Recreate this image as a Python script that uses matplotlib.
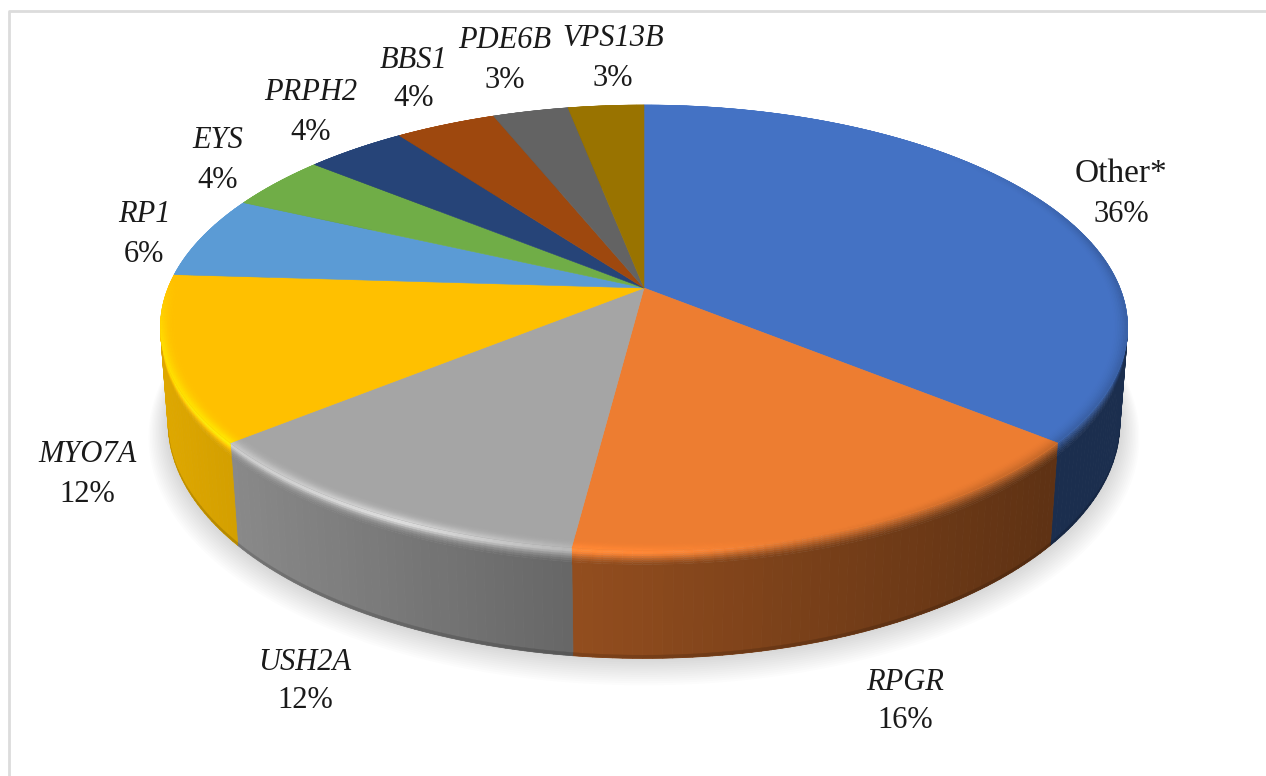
import numpy as np
import matplotlib
matplotlib.use("Agg")
import matplotlib.pyplot as plt
from matplotlib.collections import PolyCollection
from matplotlib.patches import Polygon

genes = ["Other*", "RPGR", "USH2A", "MYO7A", "RP1", "EYS", "PRPH2", "BBS1", "PDE6B", "VPS13B"]
percents = [36, 16, 12, 12, 6, 4, 4, 4, 3, 3]
colors = ["#4472C4", "#ED7D31", "#A5A5A5", "#FFC000", "#5B9BD5",
          "#70AD47", "#264478", "#9E480E", "#636363", "#997300"]

# label centres in pixels, (name, percent) use the same x
label_x = [1121, 905, 305, 87, 144, 218, 311, 414, 505, 613]
name_y = [174, 682, 662, 455, 215, 141, 93, 60, 40, 39]
pct_y = [214, 721, 700, 494, 254, 180, 132, 99, 80, 79]


def project(theta, r=1.0, h=0.0):
    # perspective view of a disc, theta runs clockwise from 12 o'clock
    u = r * np.sin(theta)
    v = -r * np.cos(theta)
    w = 1 - 0.1776 * v + 0.016 * h
    return 644 + 476 * u / w, 288 + (215.5 * v + 95 * h) / w


def side_shade(x):
    return np.interp(x, [165, 572, 1050], [0.87, 0.62, 0.40])


def gloss(x):
    return np.interp(x, [160, 400, 572, 800], [1.2, 1.36, 1.12, 1.0])


def bevel_mult(x, d):
    # d = distance from the top edge in px, <0 on the top, >0 down the rim
    g = np.exp(-((d - 2) / 5.0) ** 2)
    start = np.interp(x, [700, 1000], [2, -8])
    t = np.clip((d - start) / (15 - start), 0, 1)
    t = t * t * (3 - 2 * t)
    lit = 1 + (gloss(x) - 1) * g
    return lit * (1 - t) + side_shade(x) * t


def quads(th, r0, r1, h0=0.0, h1=0.0):
    x0, y0 = project(th[:-1], r0, h0)
    x1, y1 = project(th[1:], r0, h0)
    x2, y2 = project(th[1:], r1, h1)
    x3, y3 = project(th[:-1], r1, h1)
    return np.stack([np.c_[x0, y0], np.c_[x1, y1], np.c_[x2, y2], np.c_[x3, y3]], axis=1)


fig = plt.figure(figsize=(12.66, 7.76), dpi=100)
ax = fig.add_axes([0, 0, 1, 1])
ax.set_xlim(0, 1266)
ax.set_ylim(776, 0)
ax.axis("off")

# chart frame (no line along the bottom)
ax.plot([9, 9, 1266], [776, 11, 11], color="#dcdcdc", lw=2.0, zorder=0)

# soft shadow under the pie
full = np.linspace(0, 2 * np.pi, 361)
for s in np.linspace(1, 0, 14):
    sx, sy = project(full, 1 + 0.042 * s, 1 + 0.12 * s)
    ax.add_patch(Polygon(np.c_[sx, sy], facecolor="black", edgecolor="none", alpha=0.0125, zorder=1))

edges = 2 * np.pi * np.cumsum([0] + percents) / sum(percents)

# rim of the pie
side_levels = np.linspace(0, 0.15, 9)
for i, c in enumerate(colors):
    base = np.array(matplotlib.colors.to_rgb(c))
    n = max(int(np.degrees(edges[i + 1] - edges[i])), 2)
    th = np.linspace(edges[i], edges[i + 1], n + 1)
    mid = (th[:-1] + th[1:]) / 2
    xm = project(mid)[0]
    shade = side_shade(xm)[:, None]
    body = np.clip(base * shade, 0, 1)
    ax.add_collection(PolyCollection(quads(th, 1, 1, 0.14, 1), facecolors=body, edgecolors=body,
                                     linewidths=0.6, zorder=2))
    # darker foot on the part facing us, fades out towards the sides
    vm = -np.cos(mid)
    front = vm > 0.2
    if front.any():
        low = np.clip(base * shade * 0.85, 0, 1)
        foot = (1 - 0.03 * np.clip((vm - 0.2) / 0.3, 0, 1))
        ax.add_collection(PolyCollection(quads(th, 1, 1, foot, 1)[front], facecolors=low[front],
                                         edgecolors=low[front], linewidths=0.2, zorder=2.1))
    # upper part of the rim, blends from the highlight into the side colour
    for h0, h1 in zip(side_levels[:-1], side_levels[1:]):
        col = np.clip(base * bevel_mult(xm, (h0 + h1) / 2 * 105)[:, None], 0, 1)
        ax.add_collection(PolyCollection(quads(th, 1, 1, h0, h1), facecolors=col, edgecolors=col,
                                         linewidths=0.3, zorder=2.5))

# flat top of each slice
for i, c in enumerate(colors):
    th = np.linspace(edges[i], edges[i + 1], 200)
    x, y = project(th)
    pts = np.r_[[[644, 288]], np.c_[x, y]]
    ax.add_patch(Polygon(pts, facecolor=c, edgecolor=c, lw=0.4, zorder=3))

# bevel along the outer edge of the top
rings = np.linspace(0.96, 1.0, 13)
for i, c in enumerate(colors):
    base = np.array(matplotlib.colors.to_rgb(c))
    n = max(int(np.degrees(edges[i + 1] - edges[i])), 2)
    th = np.linspace(edges[i], edges[i + 1], n + 1)
    mid = (th[:-1] + th[1:]) / 2
    xm, _ = project(mid)
    vm = -np.cos(mid)
    weight = np.where(np.sin(mid) > 0, np.clip((vm + 0.75) / 0.55, 0, 1), np.clip((vm + 0.05) / 0.3, 0, 1))
    for r0, r1 in zip(rings[:-1], rings[1:]):
        mult = bevel_mult(xm, ((r0 + r1) / 2 - 1) * 270)
        mult = 1 + (mult - 1) * weight
        col = np.clip(base * mult[:, None], 0, 1)
        ax.add_collection(PolyCollection(quads(th, r0, r1), facecolors=col, edgecolors=col,
                                         linewidths=0.3, zorder=4))

# labels
for name, pct, x, y0, y1 in zip(genes, percents, label_x, name_y, pct_y):
    style = "normal" if name == "Other*" else "italic"
    size = 24 if name == "Other*" else 22
    ax.text(x, y0, name, family="Liberation Serif", style=style, fontsize=size,
            color="#1a1a1a", ha="center", va="center", zorder=6)
    ax.text(x, y1, f"{pct}%", family="Liberation Serif", fontsize=22,
            color="#1a1a1a", ha="center", va="center", zorder=6)

fig.savefig("out.png", dpi=100)
